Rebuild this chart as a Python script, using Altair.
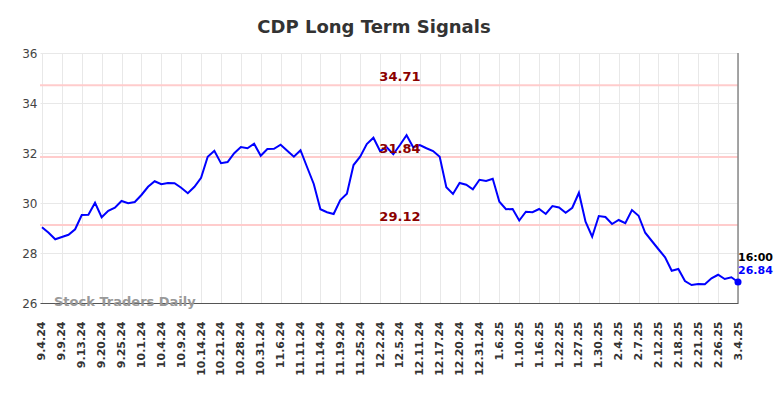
import json
import altair as alt
import pandas as pd

title_text = "CDP Long Term Signals"
values = [
    29.03, 28.81, 28.55, 28.64, 28.73, 28.95, 29.52, 29.53, 30.01, 29.43,
    29.69, 29.81, 30.08, 29.99, 30.04, 30.32, 30.65, 30.87, 30.75, 30.80,
    30.79, 30.61, 30.39, 30.65, 31.01, 31.85, 32.09, 31.59, 31.64, 31.99,
    32.24, 32.19, 32.37, 31.89, 32.16, 32.17, 32.33, 32.09, 31.85, 32.11,
    31.43, 30.76, 29.75, 29.63, 29.56, 30.12, 30.37, 31.52, 31.85, 32.36,
    32.61, 32.08, 32.23, 31.95, 32.32, 32.71, 32.23, 32.32, 32.19, 32.08,
    31.85, 30.63, 30.36, 30.80, 30.73, 30.55, 30.93, 30.88, 30.97, 30.05,
    29.75, 29.76, 29.30, 29.65, 29.63, 29.76, 29.56, 29.88, 29.82, 29.61,
    29.81, 30.41, 29.25, 28.65, 29.48, 29.44, 29.16, 29.32, 29.19, 29.72,
    29.49, 28.81, 28.48, 28.15, 27.83, 27.29, 27.36, 26.88, 26.72, 26.76,
    26.75, 26.99, 27.13, 26.96, 27.03, 26.84,
]
tick_labels = [
    "9.4.24", "9.9.24", "9.13.24", "9.20.24", "9.25.24", "10.1.24", "10.4.24",
    "10.9.24", "10.14.24", "10.21.24", "10.28.24", "10.31.24", "11.6.24",
    "11.11.24", "11.14.24", "11.19.24", "11.25.24", "12.2.24", "12.5.24",
    "12.11.24", "12.17.24", "12.20.24", "12.31.24", "1.6.25", "1.10.25",
    "1.16.25", "1.22.25", "1.27.25", "1.30.25", "2.4.25", "2.7.25", "2.12.25",
    "2.18.25", "2.21.25", "2.26.25", "3.4.25",
]
levels = [34.71, 31.84, 29.12]
level_label_pos = [54, 54, 54]
last_time = "16:00"
watermark = "Stock Traders Daily"
y_ticks = [26, 28, 30, 32, 34, 36]

FONT = "DejaVu Sans"
n = len(values)
idx = list(range(n))
df = pd.DataFrame({"i": idx, "v": values})
lv = pd.DataFrame({"level": levels, "i": level_label_pos})
last = pd.DataFrame({"i": [idx[-1]], "v": [values[-1]], "t": [last_time],
                     "vl": [f"{values[-1]:.2f}"]})
wm = pd.DataFrame({"t": [watermark]})

tick_vals = [k * 3 for k in range(len(tick_labels) - 1)] + [idx[-1]]
label_expr = f"{json.dumps(tick_labels)}[indexof({json.dumps(tick_vals)}, datum.value)]"

xs = alt.Scale(domain=[-0.3, idx[-1]], nice=False, zero=False)
ys = alt.Scale(domain=[26, 36], nice=False, zero=False)
xaxis = alt.Axis(values=tick_vals, labelExpr=label_expr, labelAngle=-90, grid=True,
                 domain=True, domainColor="#555555", domainWidth=1, ticks=False,
                 tickSize=0, labelFontSize=11, labelFontWeight="bold", labelColor="#333333",
                 labelFont=FONT, labelPadding=18, labelOverlap=False, labelFlush=False,
                 labelBound=False, title=None)
yaxis = alt.Axis(values=y_ticks, grid=True, domain=False, ticks=False, tickSize=0,
                 labelFontSize=12, labelColor="#444444", labelFont=FONT,
                 labelPadding=3, title=None)

X = alt.X("i:Q", scale=xs, axis=xaxis)
Y = alt.Y("v:Q", scale=ys, axis=yaxis)
YL = alt.Y("level:Q", scale=ys, axis=yaxis)

level_rules = alt.Chart(lv).mark_rule(color="#ffcccc", strokeWidth=2).encode(y=YL)
edge_rule = alt.Chart(last).mark_rule(color="#888888", strokeWidth=1.5).encode(x=X)
line = alt.Chart(df).mark_line(color="#0000ff", strokeWidth=2).encode(x=X, y=Y)
level_text = alt.Chart(lv).mark_text(color="#8b0000", fontWeight="bold", fontSize=13,
                                     font=FONT, dy=-8).encode(
    x=X, y=YL, text=alt.Text("level:Q", format=".2f"))
dot = alt.Chart(last).mark_circle(color="#0000ff", size=50, opacity=1).encode(x=X, y=Y)
t_time = alt.Chart(last).mark_text(align="left", dy=-24, color="black", fontWeight="bold",
                                   fontSize=11, font=FONT).encode(x=X, y=Y, text="t:N")
t_val = alt.Chart(last).mark_text(align="left", dy=-11, color="#0000ff", fontWeight="bold",
                                  fontSize=11, font=FONT).encode(x=X, y=Y, text="vl:N")
wmark = alt.Chart(wm).mark_text(align="left", baseline="middle", color="#999999",
                                fontWeight="bold", fontSize=13, font=FONT).encode(
    x=alt.value(14), y=alt.value(249), text="t:N")

chart = alt.layer(level_rules, edge_rule, line, level_text, dot, t_time, t_val, wmark).properties(
    width=698, height=250,
    title=alt.TitleParams(title_text, fontSize=18, font=FONT, fontWeight="bold",
                          color="#333333", anchor="middle", dx=-15, offset=10),
    padding={"left": 32, "top": 45, "right": 38, "bottom": 80},
    autosize=alt.AutoSizeParams(type="none"),
).configure_view(stroke=None).configure_axis(gridColor="#e8e8e8", gridWidth=1)

chart.save("out.html", embed_options={"renderer": "svg", "actions": False})
